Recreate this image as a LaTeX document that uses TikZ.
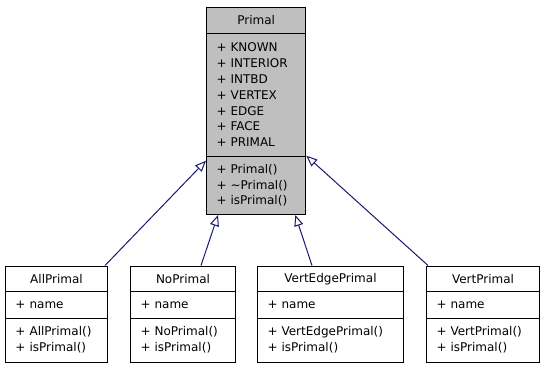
\documentclass[tikz,border=0pt]{standalone}
\usepackage{fontspec}
\setmainfont{DejaVu Sans}
\usetikzlibrary{arrows.meta}
\definecolor{edgeblue}{HTML}{191970}
\definecolor{boxgrey}{HTML}{BFBFBF}

\begin{document}
\begin{tikzpicture}[x = 1pt, y = -1pt,
  every node/.style = {font = \fontsize{12}{15.8}\selectfont},
  head/.style = {draw, line width = 1pt, anchor = north west, inner sep = 0pt, align = center},
  part/.style = {draw, line width = 1pt, anchor = north west, inner xsep = 10pt, inner ysep = 0pt, align = left},
  inherit/.style = {draw = edgeblue, line width = 1pt, -{Triangle[open, length = 11pt, width = 9pt, fill = white]}}]
%\draw[very thin, color = gray](0, 0) grid[step = 10] (544, 368);
\useasboundingbox (0, 0) rectangle (544, 368);

% base class
\node [head, fill = boxgrey, minimum width = 99.3, minimum height = 26] (primalname) at (206, 7) {Primal};
\node [part, fill = boxgrey, text width = 79.3, minimum height = 122.7] (primalattr) at (206, 33)
  {+ KNOWN\\+ INTERIOR\\+ INTBD\\+ VERTEX\\+ EDGE\\+ FACE\\+ PRIMAL};
\node [part, fill = boxgrey, text width = 79.3, minimum height = 58.3] (primalops) at (206, 155.7)
  {+ Primal()\\+ \textasciitilde Primal()\\+ isPrimal()};

% derived classes
\node [head, minimum width = 102, minimum height = 25.5] (allname) at (5, 265.5) {AllPrimal};
\node [part, text width = 82, minimum height = 26.5] (allattr) at (5, 291) {+ name};
\node [part, text width = 82, minimum height = 44] (allops) at (5, 317.5) {+ AllPrimal()\\+ isPrimal()};

\node [head, minimum width = 105, minimum height = 25.5] (noname) at (130, 265.5) {NoPrimal};
\node [part, text width = 85, minimum height = 26.5] (noattr) at (130, 291) {+ name};
\node [part, text width = 85, minimum height = 44] (noops) at (130, 317.5) {+ NoPrimal()\\+ isPrimal()};

\node [head, minimum width = 146, minimum height = 25.5] (vertedgename) at (257, 265.5) {VertEdgePrimal};
\node [part, text width = 126, minimum height = 26.5] (vertedgeattr) at (257, 291) {+ name};
\node [part, text width = 126, minimum height = 44] (vertedgeops) at (257, 317.5) {+ VertEdgePrimal()\\+ isPrimal()};

\node [head, minimum width = 113, minimum height = 25.5] (vertname) at (426, 265.5) {VertPrimal};
\node [part, text width = 93, minimum height = 26.5] (vertattr) at (426, 291) {+ name};
\node [part, text width = 93, minimum height = 44] (vertops) at (426, 317.5) {+ VertPrimal()\\+ isPrimal()};

% inheritance
\draw [inherit] ([xshift = -3pt]allname.north east) -- ([yshift = -5pt]primalops.north west);
\draw [inherit] ([xshift = -35pt]noname.north east) -- ([xshift = 12pt]primalops.south west);
\draw [inherit] ([xshift = 55pt]vertedgename.north west) -- ([xshift = -11pt]primalops.south east);
\draw [inherit] ([xshift = 2pt]vertname.north west) -- (primalops.north east);
\end{tikzpicture}
\end{document}
